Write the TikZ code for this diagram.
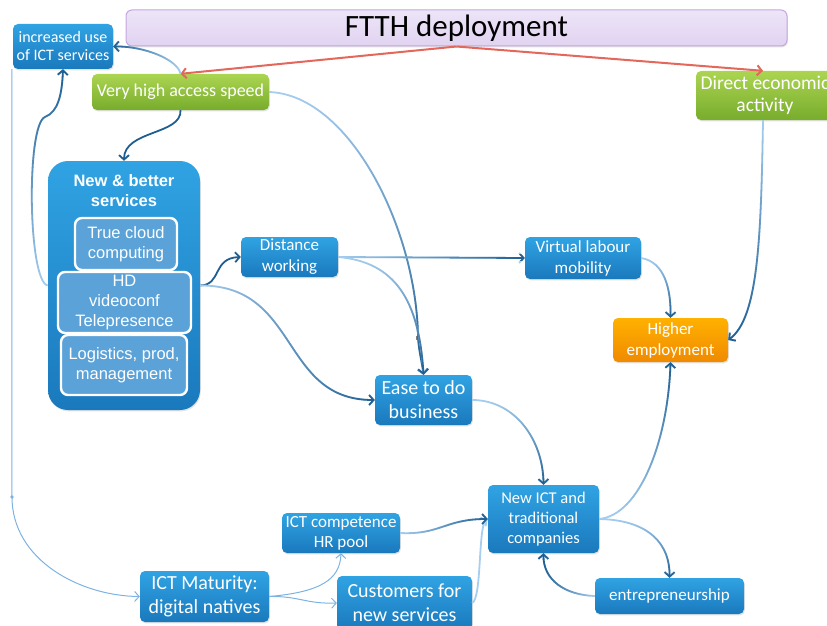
\documentclass[tikz,border=0pt]{standalone}
\usepackage{fontspec}
\setmainfont{Carlito}
\newfontfamily\arialf{Liberation Sans}
\usetikzlibrary{arrows.meta,fadings,shadows}
\definecolor{bTop}{HTML}{30A3E3}
\definecolor{bBot}{HTML}{1A79BD}
\definecolor{gTop}{HTML}{ABD551}
\definecolor{gBot}{HTML}{78AC2C}
\definecolor{oTop}{HTML}{FFB100}
\definecolor{oBot}{HTML}{F08A00}
\definecolor{inFill}{HTML}{5AA2D8}
\definecolor{tFill}{HTML}{EDE5F8}
\definecolor{tFillB}{HTML}{E1D3F1}
\definecolor{tLine}{HTML}{C5A6DF}
\definecolor{cLight}{HTML}{A6CEF0}
\definecolor{cDark}{HTML}{1F5E91}
\definecolor{cThin}{HTML}{7DB3E3}
\definecolor{cRed}{HTML}{E3675A}
\newcommand\fs[2]{\fontsize{#1}{#2}\selectfont}
\newcommand\gc[2]{\draw[cl] #2; \draw[cd, path fading=#1] #2;}
\tikzset{
  tip/.style={-{Straight Barb[length=4.5pt,width=10pt]}},
  shad/.style={drop shadow={opacity=0.22,shadow xshift=0.8pt,shadow yshift=-1.4pt}},
  box/.style={rounded corners=5pt, top color=bTop, bottom color=bBot, text=white,
    align=center, inner sep=0pt, shad},
  gbox/.style={box, top color=gTop, bottom color=gBot},
  obox/.style={box, top color=oTop, bottom color=oBot},
  inbox/.style={rounded corners=7pt, fill=inFill, draw=white, line width=2.4pt,
    text=white, align=center, inner sep=0pt, font=\arialf\fs{16.5}{20}},
  cl/.style={draw=cLight, line width=1.8pt, tip},
  cd/.style={draw=cDark, line width=1.8pt, tip},
  cdark/.style={draw=cDark, line width=1.8pt, tip},
  cthin/.style={draw=cThin, line width=1pt, tip},
  redarr/.style={draw=cRed, line width=2pt, tip},
}
\begin{document}
\begin{tikzpicture}[x=1pt,y=1pt]
\useasboundingbox (0,0) rectangle (827,-626);
\clip (0,0) rectangle (827,-626);
% nodes
\node[rounded corners=6pt, top color=tFill, bottom color=tFillB, draw=tLine, line width=1pt,
  minimum width=661pt, minimum height=36pt, inner sep=0pt, font=\fs{31}{34}, shad]
  (title) at (456.5,-28) {FTTH deployment};
\node[box, minimum width=100pt, minimum height=45pt, font=\fs{16}{18}] (inc) at (63,-46.5) {increased use\\of ICT services};
\node[gbox, minimum width=177pt, minimum height=36pt, font=\fs{18}{21}] (speed) at (180.5,-92) {Very high access speed};
\node[gbox, minimum width=138pt, minimum height=49pt, font=\fs{19.5}{22}] (direct) at (765,-95.5) {Direct economic\\activity};
\node[box, rounded corners=20pt, minimum width=152pt, minimum height=249pt] (services) at (124,-285.5) {};
\node[text=white, align=center, inner sep=0pt, font=\arialf\bfseries\fs{16.5}{20}] (svt) at (124,-191) {New \& better\\services};
\node[inbox, minimum width=102pt, minimum height=52pt] (cloud) at (126,-244) {True cloud\\computing};
\node[inbox, minimum width=133pt, minimum height=61pt] (hd) at (124.5,-302.5) {HD\\videoconf\\Telepresence};
\node[inbox, minimum width=126pt, minimum height=60pt] (logi) at (124,-365) {Logistics, prod,\\management};
\node[box, minimum width=97pt, minimum height=40pt, font=\fs{17}{21}] (distance) at (289.5,-257) {Distance\\working};
\node[box, minimum width=116pt, minimum height=42pt, font=\fs{17}{21}] (virtual) at (583,-258) {Virtual labour\\mobility};
\node[obox, minimum width=115pt, minimum height=44pt, font=\fs{17}{21}] (higher) at (670.5,-340) {Higher\\employment};
\node[box, minimum width=97pt, minimum height=50pt, font=\fs{20}{24}] (ease) at (423.5,-400) {Ease to do\\business};
\node[box, minimum width=111pt, minimum height=68pt, font=\fs{16.5}{20}] (newict) at (543.5,-519) {New ICT and\\traditional\\companies};
\node[box, minimum width=149pt, minimum height=36pt, font=\fs{17}{20}] (entre) at (669.5,-596) {entrepreneurship};
\node[box, minimum width=118pt, minimum height=40pt, font=\fs{17}{20}] (comp) at (341,-533) {ICT competence\\HR pool};
\node[box, minimum width=129pt, minimum height=51pt, font=\fs{20}{24}] (maturity) at (204.5,-596.5) {ICT Maturity:\\digital natives};
\node[box, minimum width=135pt, minimum height=54pt, font=\fs{20}{24}] (customers) at (404.5,-603) {Customers for\\new services};
\node[draw=gray, line width=0.5pt, minimum size=3pt, inner sep=0pt] (mk) at (418,-338) {};
\coordinate (bend) at (12,-497);
% red arrows
\draw[redarr] (title.south) -- (speed.north);
\draw[redarr] (title.south) -- ([xshift=-2pt]direct.north);
% connectors
\gc{east}{(speed.north) .. controls (178,-60) and (145,-46) .. (inc.east)}
\draw[cdark] (speed.south) .. controls (182,-135) and (124,-130) .. (services.north);
\gc{south}{(services.west) .. controls (28,-282) and (26,-125) .. (45,-117) .. controls (58,-112) and (62,-95) .. (inc.south)}
\gc{north}{(speed.east) .. controls (350,-95) and (417,-230) .. (mk.center) .. controls (419,-352) and (422,-362) .. (ease.north)}
\draw[cdark] (services.east) .. controls (222,-285) and (212,-258) .. (distance.west);
\gc{west}{(services.east) .. controls (300,-285) and (280,-400) .. (ease.west)}
\gc{west}{(distance.east) -- (virtual.west)}
\gc{north}{(distance.east) .. controls (395,-262) and (419,-300) .. (ease.north)}
\gc{north}{(virtual.east) .. controls (665,-262) and (671,-290) .. (higher.north)}
\gc{north}{([xshift=-2pt]direct.south) .. controls (761,-240) and (758,-318) .. (higher.east)}
\gc{north}{(ease.east) .. controls (515,-400) and (543,-440) .. (newict.north)}
\gc{south}{(newict.east) .. controls (640,-515) and (668,-440) .. (higher.south)}
\gc{north}{(newict.east) .. controls (650,-520) and (670,-545) .. (entre.north)}
\gc{east}{(entre.west) .. controls (565,-595) and (543,-580) .. (newict.south)}
\draw[cl] (customers.east) .. controls (482,-598) and (478,-525) .. (newict.west);
\gc{west}{(comp.east) .. controls (440,-535) and (445,-519) .. (newict.west)}
\draw[cthin] ([xshift=-1pt]inc.south west) -- (bend) .. controls (12,-560) and (80,-596) .. (maturity.west);
\fill[cThin] (bend) circle (1.8pt);
\draw[cthin] (maturity.east) .. controls (320,-592) and (340,-580) .. (comp.south);
\draw[cthin] (maturity.east) .. controls (300,-596) and (305,-604) .. (customers.west);
\end{tikzpicture}
\end{document}
